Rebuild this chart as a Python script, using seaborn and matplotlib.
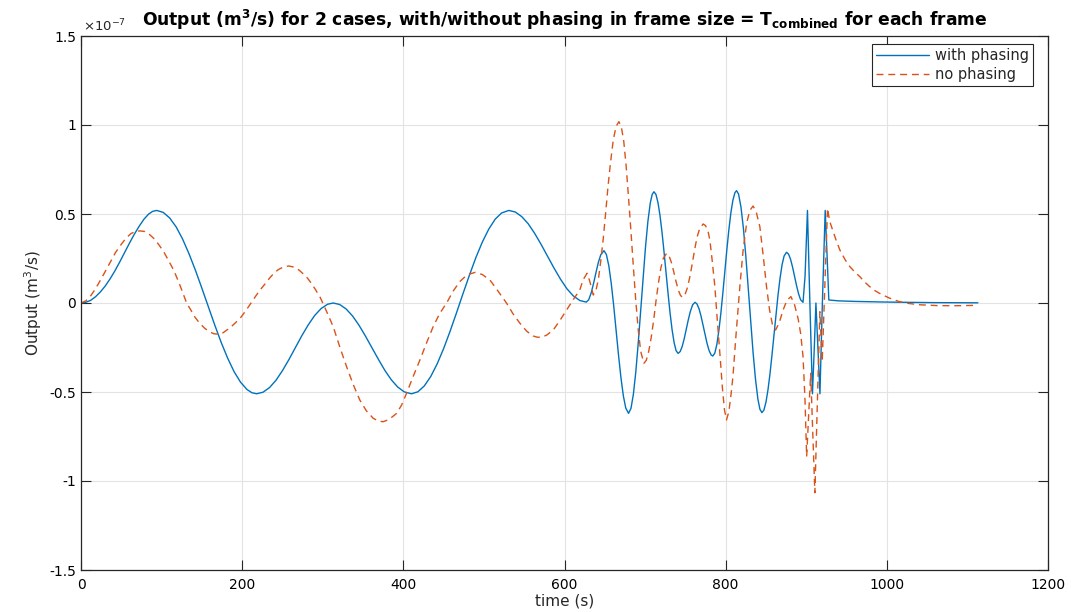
import numpy as np
import pandas as pd
import matplotlib
matplotlib.use("Agg")
import matplotlib.pyplot as plt
import seaborn as sns

# ------------------------------------------------------------------
# data (output in units of 1e-7 m^3/s)
# ------------------------------------------------------------------
t_phase = [0, 6, 12, 18, 24, 30, 36, 42, 48, 54, 60, 66, 72, 78, 84, 89, 94,
           102, 110, 118, 126, 134, 142, 150, 158, 166, 174, 182, 190, 198, 206, 212, 218,
           226, 234, 242, 250, 258, 266, 274, 282, 290, 298, 306, 313,
           321, 329, 337, 345, 353, 361, 369, 377, 385, 393, 401, 410,
           418, 426, 434, 442, 450, 458, 466, 474, 482, 490, 498, 506, 514, 522, 531,
           539, 547, 555, 563, 571, 579, 587, 595, 603, 611, 619,
           627, 630, 633, 636, 639, 642, 645, 649,
           652, 655, 658, 661, 664, 667, 670, 673, 676, 679.5,
           682.5, 685.5, 688.5, 691.5, 694.5, 697.5, 700.5, 703.5, 706.5, 708.8, 711,
           713.5, 716, 718.5, 721, 723.5, 726, 728.5, 731, 733.5, 736, 738.5, 741,
           743.5, 746, 748.5, 751, 753.5, 756, 759, 762,
           764.5, 767, 769.5, 772, 774.5, 777, 779.5, 782, 784,
           786.5, 789, 791.5, 794, 796.5, 799, 801.5, 804, 806.5, 809, 811.5, 813.5,
           816, 819, 822, 825, 828, 831, 834, 837, 840, 842.5, 845,
           847.5, 850, 852.5, 855, 857.5, 860, 862.5, 865, 867.5, 870, 872.5, 875.5,
           878, 880.5, 883, 885.5, 888, 890.5, 893, 896,
           898.5, 901.5, 904.5, 907.7, 910, 912, 914.5, 917, 920, 923.5, 926, 928,
           940, 960, 990, 1020, 1060, 1113]
q_phase = [0, 0.004, 0.015, 0.035, 0.062, 0.095, 0.135, 0.18, 0.23, 0.283, 0.335, 0.385, 0.43, 0.47, 0.5, 0.515, 0.52,
           0.509, 0.478, 0.428, 0.360, 0.277, 0.184, 0.083, -0.021, -0.124, -0.222, -0.310, -0.386, -0.445, -0.486, -0.504, -0.51,
           -0.501, -0.475, -0.434, -0.380, -0.318, -0.251, -0.184, -0.123, -0.070, -0.031, -0.007, 0.0,
           -0.0085, -0.0335, -0.073, -0.125, -0.186, -0.251, -0.316, -0.378, -0.431, -0.472, -0.499, -0.51,
           -0.499, -0.466, -0.413, -0.342, -0.256, -0.159, -0.055, 0.052, 0.156, 0.255, 0.342, 0.415, 0.471, 0.506, 0.52,
           0.511, 0.485, 0.445, 0.391, 0.329, 0.2625, 0.196, 0.134, 0.080, 0.0395, 0.014,
           0.005, 0.018, 0.055, 0.109, 0.170, 0.228, 0.271, 0.294,
           0.272, 0.209, 0.111, -0.013, -0.151, -0.291, -0.418, -0.521, -0.590, -0.62,
           -0.592, -0.512, -0.386, -0.225, -0.044, 0.141, 0.314, 0.459, 0.563, 0.610, 0.625,
           0.610, 0.564, 0.492, 0.398, 0.288, 0.171, 0.054, -0.056, -0.150, -0.222, -0.268, -0.283,
           -0.273, -0.245, -0.202, -0.150, -0.097, -0.050, -0.010, 0.004,
           -0.006, -0.033, -0.075, -0.126, -0.179, -0.229, -0.268, -0.292, -0.298,
           -0.282, -0.234, -0.157, -0.059, 0.056, 0.179, 0.301, 0.413, 0.508, 0.578, 0.620, 0.631,
           0.612, 0.539, 0.420, 0.264, 0.085, -0.100, -0.277, -0.428, -0.540, -0.597, -0.616,
           -0.601, -0.557, -0.488, -0.398, -0.291, -0.177, -0.062, 0.046, 0.140, 0.215, 0.264, 0.285,
           0.275, 0.246, 0.202, 0.150, 0.097, 0.051, 0.018, 0.004,
           0.15, 0.52, 0.0, -0.51, -0.25, 0.0, -0.25, -0.51, 0.0, 0.52, 0.25, 0.017,
           0.012, 0.009, 0.006, 0.004, 0.002, 0.001]

t_nophase = [0, 6, 12, 18, 25, 31, 37, 43, 50, 56, 62, 68, 73, 79, 85, 91, 97, 103, 109, 115, 121, 126, 131,
             136, 141, 147, 153.5, 160, 165, 170, 176, 181, 186.5, 193, 199, 205, 211, 217, 222, 228,
             234, 240, 245, 251, 257.7, 264, 270, 276, 281, 286, 291, 297,
             305, 313, 321, 329.6, 338, 346, 354, 362.7, 369, 375, 382, 391.7, 398, 404, 412, 420.6,
             429, 437, 445, 453.7,
             462, 470, 479, 489, 498, 507.5, 517, 528, 536, 544.7, 553, 561, 566, 571.5, 578, 586,
             594, 602.6, 611,
             619, 623, 628, 631.5, 635.7, 639, 642, 645, 648, 651, 654, 657, 660.5, 664, 667.5,
             670.5, 673.5, 676.5, 679.5, 682.5, 685.5, 688.5, 691.5, 694.5, 698.5,
             701.5, 704.5, 707.5, 710.5, 713.5, 716.5, 719.5, 722.5, 726.7,
             729.5, 732.5, 735.5, 738.5, 741.5, 744, 746.5,
             749.5, 752.5, 755.5, 758.5, 761.5, 764.5, 767.5, 772,
             775, 778, 780.4, 783, 786.6, 789.5, 792.8, 796, 798.5, 801,
             804, 806.5, 809, 813, 817.6, 821.5, 826, 830, 834,
             838, 842.4, 846.5, 850.7, 854.5, 858, 862,
             866.5, 871.3, 876, 881, 885.5, 890, 893, 896, 898.5,
             900.5, 905.5, 910.7, 916.9, 919.8, 926.4,
             929, 932, 936.5, 941.7, 948, 954, 960, 966.5, 972, 978, 984, 991, 1003, 1016, 1028, 1041,
             1065, 1090, 1113]
q_nophase = [0, 0.012, 0.04, 0.08, 0.135, 0.185, 0.235, 0.285, 0.33, 0.365, 0.39, 0.403, 0.405, 0.402, 0.385,
             0.36, 0.325, 0.285, 0.235, 0.185, 0.12, 0.062, 0.0,
             -0.037, -0.077, -0.112, -0.142, -0.163, -0.173, -0.175, -0.168, -0.152, -0.133, -0.105, -0.077,
             -0.04, 0.0, 0.04, 0.072, 0.105,
             0.14, 0.17, 0.188, 0.202, 0.208, 0.202, 0.187, 0.163, 0.14, 0.11, 0.075, 0.03,
             -0.05, -0.133, -0.245, -0.358, -0.46, -0.545, -0.605, -0.648, -0.663, -0.667, -0.655, -0.62,
             -0.572, -0.507, -0.415, -0.32,
             -0.222, -0.133, -0.06, 0.0,
             0.068, 0.12, 0.158, 0.172, 0.16, 0.129, 0.07, 0.0, -0.06, -0.114, -0.158, -0.185, -0.192, -0.193,
             -0.18, -0.152,
             -0.1, -0.039, 0.02,
             0.073, 0.13, 0.167, 0.12, 0.045, 0.07, 0.132, 0.236, 0.358, 0.503, 0.655, 0.785, 0.915, 0.992, 1.019,
             0.99, 0.91, 0.77, 0.59, 0.40, 0.20, 0.01, -0.15, -0.27, -0.339,
             -0.322, -0.272, -0.196, -0.102, 0.01, 0.11, 0.195, 0.25, 0.279,
             0.267, 0.230, 0.177, 0.119, 0.069, 0.042, 0.032,
             0.046, 0.086, 0.146, 0.22, 0.3, 0.37, 0.415, 0.444,
             0.435, 0.405, 0.354, 0.25, 0.092, -0.09, -0.283, -0.48, -0.6, -0.657,
             -0.61, -0.52, -0.414, -0.17, 0.092, 0.29, 0.448, 0.52, 0.545,
             0.51, 0.429, 0.27, 0.092, -0.04, -0.12, -0.152,
             -0.11, -0.039, 0.015, 0.036, -0.01, -0.09, -0.17, -0.30, -0.55,
             -0.863, -0.395, -1.066, -0.049, -0.33, 0.532,
             0.46, 0.42, 0.36, 0.298, 0.245, 0.205, 0.175, 0.148, 0.12, 0.095, 0.073, 0.054, 0.028, 0.007,
             -0.003, -0.01,
             -0.015, -0.015, -0.013]

x_ticks = [0, 200, 400, 600, 800, 1000, 1200]
y_ticks = [-1.5, -1, -0.5, 0, 0.5, 1, 1.5]
y_tick_labels = ["-1.5", "-1", "-0.5", "0", "0.5", "1", "1.5"]

# ------------------------------------------------------------------
# style
# ------------------------------------------------------------------
sns.set_style("ticks")
plt.rcParams["font.family"] = ["DejaVu Sans"]
plt.rcParams["mathtext.fontset"] = "dejavusans"

BLUE = "#0072BD"
ORANGE = "#D95319"
DARK = "#262626"

df_phase = pd.DataFrame({"time": t_phase, "q": q_phase})
df_nophase = pd.DataFrame({"time": t_nophase, "q": q_nophase})

fig = plt.figure(figsize=(10.71, 6.12), dpi=100)
ax = fig.add_axes([81 / 1071, 1 - 570 / 612, (1048 - 81) / 1071, (570 - 36) / 612])

sns.lineplot(data=df_phase, x="time", y="q", ax=ax, color=BLUE, lw=1.0,
             sort=False, estimator=None, label="with phasing")
sns.lineplot(data=df_nophase, x="time", y="q", ax=ax, color=ORANGE, lw=1.0,
             sort=False, estimator=None, label="no phasing", linestyle=(0, (5, 3.5)))

ax.set_xlim(0, 1200)
ax.set_ylim(-1.5, 1.5)
ax.set_xticks(x_ticks)
ax.set_yticks(y_ticks)
ax.set_yticklabels(y_tick_labels)
ax.grid(True, color="#e3e3e3", lw=0.8)
ax.set_axisbelow(True)

for s in ax.spines.values():
    s.set_visible(True)
    s.set_color(DARK)
    s.set_linewidth(0.9)
ax.tick_params(direction="in", length=7, width=0.8, colors=DARK, labelsize=10,
               top=True, right=True, labelcolor="black")
ax.tick_params(axis="x", pad=6)

ax.set_xlabel("time (s)", fontsize=11, labelpad=1)
ax.set_ylabel("Output (m$^3$/s)", fontsize=11, labelpad=4)
ax.set_title(r"Output (m$^\mathbf{3}$/s) for 2 cases, with/without phasing in frame size = T$_\mathbf{combined}$ for each frame",
             fontsize=12.3, fontweight="bold", pad=7, color="black")
ax.text(0.002, 1.004, r"$\times$10$^{-7}$", transform=ax.transAxes,
        ha="left", va="bottom", fontsize=9.5, color=DARK)

leg = ax.legend(loc="upper right", bbox_to_anchor=(0.9845, 0.985), borderaxespad=0,
                fontsize=10.5, fancybox=False, framealpha=1, edgecolor=DARK,
                handlelength=3.6, borderpad=0.3, labelspacing=0.25, handletextpad=0.4)
leg.get_frame().set_linewidth(0.8)

fig.savefig("out.png", dpi=100)
